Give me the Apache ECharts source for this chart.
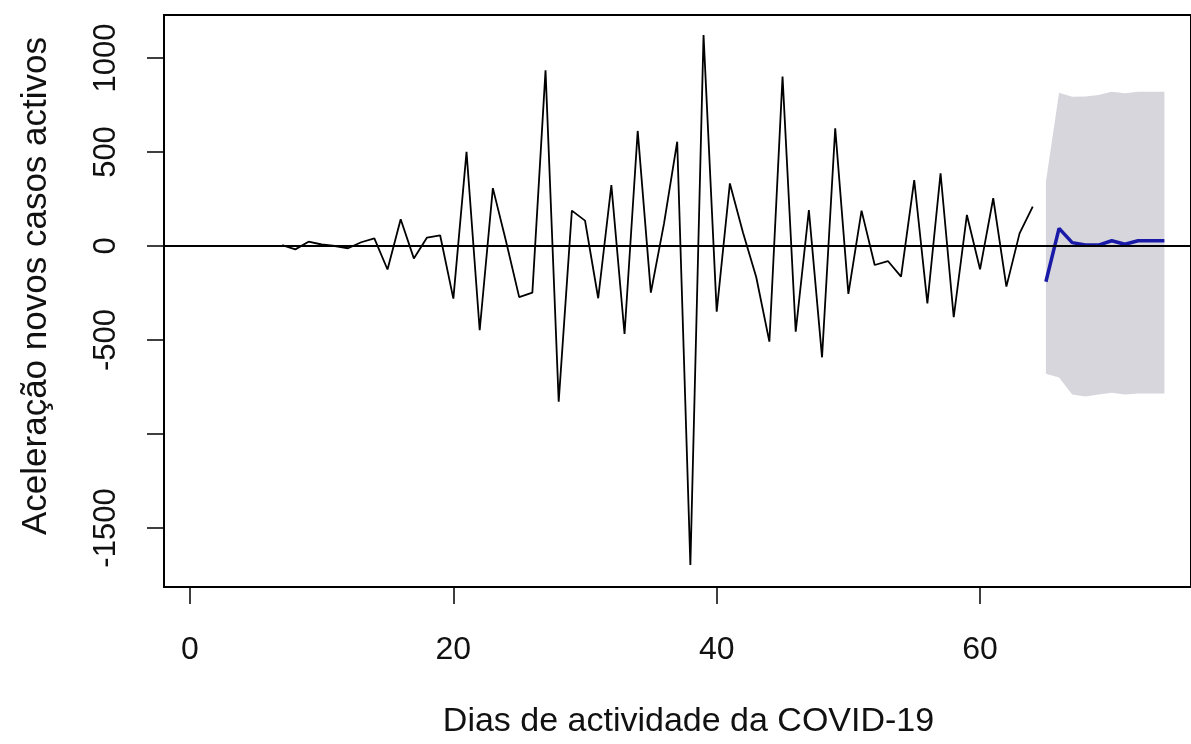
<!DOCTYPE html>
<html>
<head>
<meta charset="utf-8">
<script src="https://cdn.jsdelivr.net/npm/echarts@6/dist/echarts.min.js"></script>
<style>
html,body{margin:0;padding:0;background:#fff;overflow:hidden;}
#chart{width:1191px;height:744px;}
</style>
</head>
<body>
<div id="chart"></div>
<script>
// Observed series: acceleration of new active cases (days 7..64)
const days = [7,8,9,10,11,12,13,14,15,16,17,18,19,20,21,22,23,24,25,26,27,28,29,30,31,32,33,34,35,36,37,38,39,40,41,42,43,44,45,46,47,48,49,50,51,52,53,54,55,56,57,58,59,60,61,62,63,64];
const values = [5,-18,23,8,0,-12,20,41,-125,142,-66,45,56,-280,501,-448,308,25,-272,-248,934,-828,188,135,-278,324,-468,612,-248,120,555,-1697,1122,-349,333,70,-165,-509,901,-456,191,-592,626,-255,188,-101,-80,-163,351,-305,387,-379,165,-124,254,-216,67,209];
// Forecast (days 65..74)
const fcDays = [65,66,67,68,69,70,71,72,73,74];
const fcMean = [-190,94,18,5,5,28,9,28,28,28];
const fcLower = [-680,-700,-790,-800,-790,-780,-790,-785,-785,-785];
const fcUpper = [340,815,794,795,803,821,812,821,821,821];
// Axis ticks / labels
const xTicks = [0,20,40,60];
const yTicks = [-1500,-1000,-500,0,500,1000];
const yLabels = [-1500,-500,0,500,1000];
const xTitle = 'Dias de actividade da COVID-19';
const yTitle = 'Aceleração novos casos activos';

const FONT = '"Liberation Sans", Arial, sans-serif';
const chart = echarts.init(document.getElementById('chart'), null, {renderer: 'canvas'});

const obs = days.map((d, i) => [d, values[i]]);
const fc = fcDays.map((d, i) => [d, fcMean[i]]);
const band = fcDays.map((d, i) => [d, fcLower[i], fcUpper[i]]);

chart.setOption({
  animation: false,
  backgroundColor: '#fff',
  grid: {left: 164, top: 15, right: 0, bottom: 157, show: true, borderColor: '#000', borderWidth: 2, backgroundColor: 'transparent'},
  xAxis: {
    type: 'value', min: -1.975, max: 76.02,
    axisLine: {show: false, onZero: false},
    splitLine: {show: false},
    axisTick: {show: true, inside: false, length: 17, lineStyle: {color: '#000', width: 1.5}, customValues: xTicks},
    axisLabel: {show: true, customValues: xTicks, fontSize: 32, color: '#111', fontFamily: FONT, margin: 47,
      formatter: v => String(v)},
    name: xTitle, nameLocation: 'middle', nameGap: 118,
    nameTextStyle: {fontSize: 34, color: '#111', fontFamily: FONT, padding: [0, 0, 0, 22]}
  },
  yAxis: {
    type: 'value', min: -1813.8, max: 1228.7,
    axisLine: {show: false, onZero: false},
    splitLine: {show: false},
    axisTick: {show: true, inside: false, length: 17, lineStyle: {color: '#000', width: 1.5}, customValues: yTicks},
    axisLabel: {show: true, customValues: yLabels, rotate: 90, fontSize: 31, color: '#111', fontFamily: FONT, margin: 42,
      formatter: v => String(v)},
    name: yTitle, nameLocation: 'middle', nameGap: 110, nameRotate: 90,
    nameTextStyle: {fontSize: 35, color: '#111', fontFamily: FONT, padding: [0, 0, 0, 30]}
  },
  series: [
    {
      type: 'custom',
      z: 1,
      clip: true,
      data: band,
      renderItem: function (params, api) {
        if (params.dataIndex !== 0) return null;
        const pts = [];
        for (let i = 0; i < fcDays.length; i++) pts.push(api.coord([fcDays[i], fcUpper[i]]));
        for (let i = fcDays.length - 1; i >= 0; i--) pts.push(api.coord([fcDays[i], fcLower[i]]));
        return {type: 'polygon', shape: {points: pts}, style: {fill: '#D6D6DC', stroke: null}};
      },
      silent: true
    },
    {
      type: 'line', z: 3, data: obs, symbol: 'none',
      lineStyle: {color: '#000', width: 1.8},
      markLine: {
        silent: true, symbol: 'none', label: {show: false},
        lineStyle: {color: '#000', width: 1.8, type: 'solid'},
        data: [{yAxis: 0}]
      }
    },
    {
      type: 'line', z: 4, data: fc, symbol: 'none',
      lineStyle: {color: '#1a1aa8', width: 3.5}
    }
  ]
});
</script>
</body>
</html>
